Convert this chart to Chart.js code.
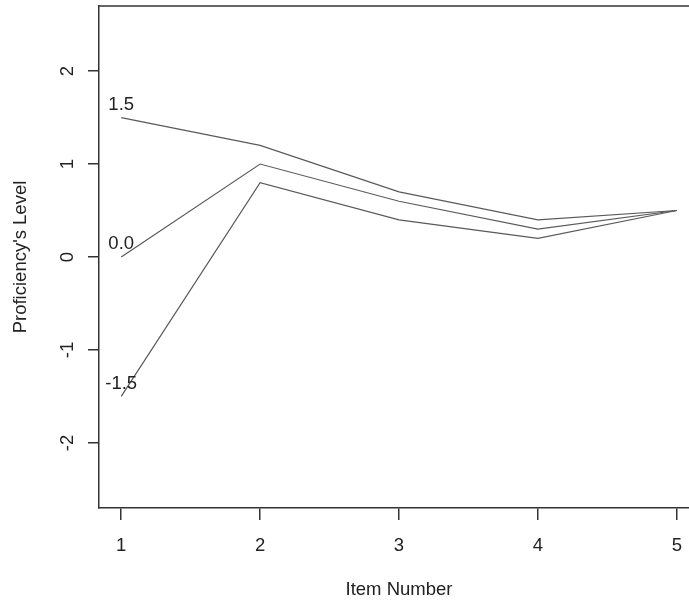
<!DOCTYPE html>
<html>
<head>
<meta charset="utf-8">
<script src="https://cdn.jsdelivr.net/npm/chart.js@4/dist/chart.umd.min.js"></script>
<style>
  html, body { margin: 0; padding: 0; background: #fff; overflow: hidden; }
  #wrap { position: absolute; left: 0; top: 0; width: 720px; height: 601px; }
</style>
</head>
<body>
<div id="wrap"><canvas id="chart"></canvas></div>
<script>
// item numbers along the x axis
const items = [1, 2, 3, 4, 5];
// proficiency curves, one per starting level
const levels = ['1.5', '0.0', '-1.5'];
const curveHigh = [1.5, 1.2, 0.7, 0.4, 0.5];
const curveMid = [0.0, 1.0, 0.6, 0.3, 0.5];
const curveLow = [-1.5, 0.8, 0.4, 0.2, 0.5];
const yTicks = [-2, -1, 0, 1, 2];

const FONT = "'Liberation Sans', Arial, Helvetica, sans-serif";
const FSIZE = 18.5;
const LINE = '#5a5a5a';
const AXIS = '#333333';

const toPoints = (vals) => items.map((x, i) => ({ x: x, y: vals[i] }));

// R style bits: top box line, rotated y labels, level labels at the start of each curve
const rStyle = {
    id: 'rStyle',
    afterDraw(chart) {
        const ctx = chart.ctx;
        const area = chart.chartArea;
        const ys = chart.scales.y;
        ctx.save();
        ctx.strokeStyle = AXIS;
        ctx.lineWidth = 1.5;
        ctx.beginPath();
        ctx.moveTo(area.left, area.top);
        ctx.lineTo(area.right, area.top);
        ctx.stroke();

        ctx.fillStyle = '#222';
        ctx.font = FSIZE + 'px ' + FONT;
        ctx.textAlign = 'center';
        ctx.textBaseline = 'middle';
        yTicks.forEach(v => {
            ctx.save();
            ctx.translate(68, ys.getPixelForValue(v));
            ctx.rotate(-Math.PI / 2);
            ctx.fillText(String(v), 0, 0);
            ctx.restore();
        });

        ctx.save();
        ctx.translate(21, (area.top + area.bottom) / 2);
        ctx.rotate(-Math.PI / 2);
        ctx.fillText("Proficiency's Level", 0, 0);
        ctx.restore();

        chart.data.datasets.forEach((ds, i) => {
            const p = chart.getDatasetMeta(i).data[0];
            ctx.fillText(ds.label, p.x, p.y - 13);
        });
        ctx.restore();
    }
};

const mk = (label, vals) => ({
    label: label,
    data: toPoints(vals),
    borderColor: LINE,
    borderWidth: 1.2,
    pointRadius: 0,
    fill: false,
    tension: 0
});

new Chart(document.getElementById('chart'), {
    type: 'line',
    data: {
        datasets: [
            mk(levels[0], curveHigh),
            mk(levels[1], curveMid),
            mk(levels[2], curveLow)
        ]
    },
    options: {
        responsive: true,
        maintainAspectRatio: false,
        animation: false,
        layout: { padding: { top: 6, right: 21, left: 0, bottom: 0 } },
        plugins: { legend: { display: false }, tooltip: { enabled: false } },
        scales: {
            x: {
                type: 'linear',
                min: 0.84,
                max: 5.16,
                afterFit: (s) => { s.height = 93; },
                grid: { drawOnChartArea: false, tickLength: 12, color: AXIS, lineWidth: 1.5 },
                border: { color: AXIS, width: 1.5 },
                ticks: {
                    stepSize: 1,
                    includeBounds: false,
                    padding: 15,
                    color: '#222',
                    font: { family: FONT, size: FSIZE },
                    maxRotation: 0
                },
                title: {
                    display: true,
                    text: 'Item Number',
                    color: '#222',
                    font: { family: FONT, size: FSIZE },
                    padding: 0
                }
            },
            y: {
                min: -2.7,
                max: 2.7,
                afterFit: (s) => { s.width = 99; },
                grid: { drawOnChartArea: false, tickLength: 11, color: AXIS, lineWidth: 1.5 },
                border: { color: AXIS, width: 1.5 },
                afterBuildTicks: (s) => { s.ticks = yTicks.map(v => ({ value: v })); },
                ticks: { display: false }
            }
        }
    },
    plugins: [rStyle]
});
</script>
</body>
</html>
